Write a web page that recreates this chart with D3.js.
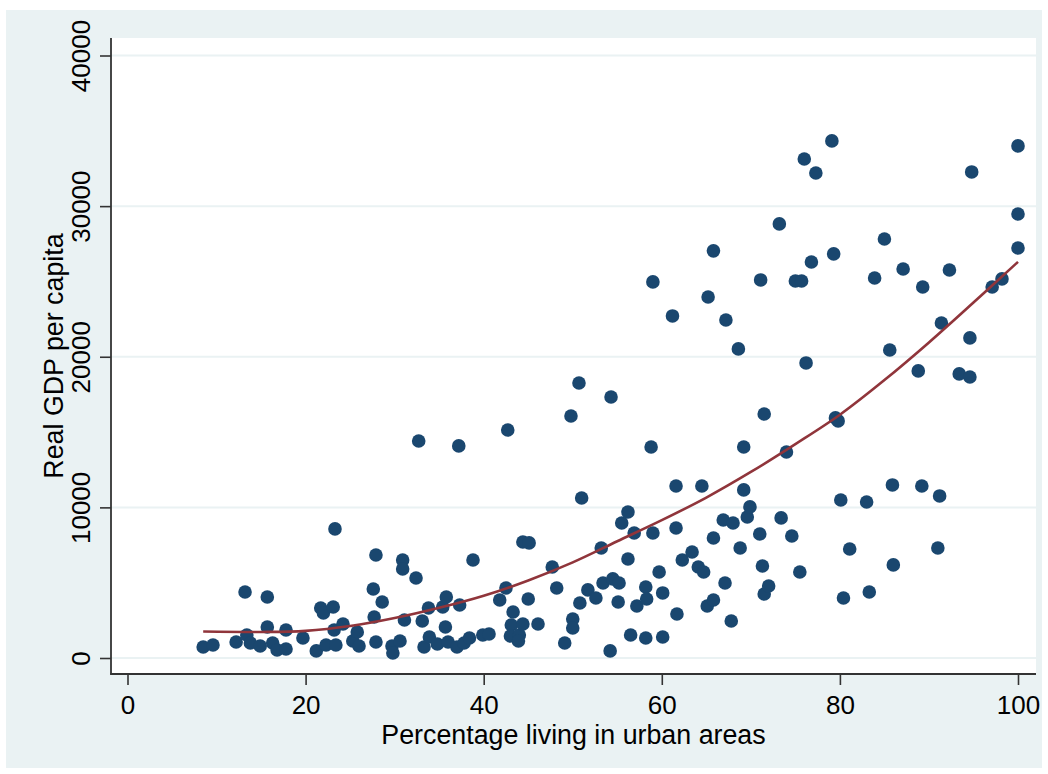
<!DOCTYPE html>
<html>
<head>
<meta charset="utf-8">
<script src="https://cdn.jsdelivr.net/npm/d3@7"></script>
<style>
  html, body { margin: 0; padding: 0; background: #ffffff; }
  svg { display: block; }
  text { font-family: "Liberation Sans", Arial, Helvetica, sans-serif; fill: #000; }
</style>
</head>
<body>
<svg id="chart" width="1048" height="774"></svg>
<script>
// ---------------- data ----------------
const urbanPct = [
  8.5, 9.6, 12.2, 13.2, 13.4, 13.8, 14.9, 15.7, 15.7, 16.3, 16.8, 17.8, 17.8, 19.7, 21.2,
  21.7, 22.0, 22.3, 23.3, 23.4, 23.1, 23.2, 24.2, 25.3, 25.8, 26.0, 27.9, 27.6, 28.6, 27.7,
  27.9, 29.7, 29.8, 30.9, 30.9, 30.6, 32.4, 31.1, 32.7, 37.2, 33.1, 33.3, 33.8, 33.9, 34.8,
  35.4, 35.8, 35.7, 36.0, 37.0, 37.3, 37.8, 38.4, 38.8, 39.9, 40.6, 41.8, 42.5, 42.7, 43.3,
  43.1, 43.0, 44.0, 43.9, 44.4, 44.4, 45.1, 45.0, 46.1, 47.7, 48.2, 49.1, 49.8, 50.7, 51.0,
  50.0, 50.0, 50.8, 51.7, 52.6, 53.2, 53.4, 54.3, 54.5, 55.2, 55.1, 54.2, 55.5, 56.2, 56.2,
  56.5, 56.9, 57.2, 58.2, 58.3, 58.2, 58.8, 59.0, 59.0, 59.7, 60.1, 60.1, 61.2, 61.6, 61.6,
  61.7, 62.3, 63.4, 64.1, 64.7, 64.5, 65.1, 65.2, 65.8, 65.8, 65.8, 66.9, 67.1, 67.2, 67.8,
  68.0, 68.6, 68.8, 69.2, 69.2, 69.6, 69.9, 71.1, 71.0, 71.3, 71.5, 71.5, 72.0, 73.2, 73.4,
  74.0, 74.6, 75.0, 75.7, 75.5, 76.0, 76.2, 76.8, 77.3, 79.1, 79.3, 79.5, 79.8, 80.1, 80.4,
  81.1, 83.0, 83.3, 83.9, 85.0, 85.6, 85.9, 86.0, 87.1, 88.8, 89.2, 89.3, 91.0, 91.2, 91.4,
  92.3, 93.4, 94.6, 94.6, 94.8, 97.1, 98.2, 100.0, 100.0, 100.0
];
const gdpPerCapita = [
  730, 860, 1060, 4380, 1530, 1000, 800, 4050, 2060, 1000, 530, 1860, 600, 1330, 470,
  3320, 2990, 860, 8570, 860, 3390, 1860, 2260, 1130, 1730, 800, 6840, 4580, 3720, 2720,
  1060, 800, 330, 6510, 5910, 1130, 5310, 2520, 14410, 14080, 2460, 730, 3320, 1390, 930,
  3390, 4050, 2060, 1060, 730, 3520, 1000, 1330, 6510, 1530, 1590, 3850, 4650, 15140, 3050,
  2190, 1460, 1530, 1130, 2260, 7700, 7640, 3920, 2260, 6040, 4650, 1000, 16070, 18260, 10620,
  2590, 1990, 3650, 4520, 3980, 7300, 4980, 17330, 5250, 4980, 3720, 470, 8960, 9690, 6570,
  1530, 8300, 3450, 4710, 3920, 1330, 14010, 24970, 8300, 5710, 4320, 1390, 22710, 11420, 8630,
  2920, 6510, 7040, 6040, 5710, 11420, 3450, 23970, 27030, 7970, 3850, 9160, 4980, 22440, 2460,
  8960, 20520, 7300, 14010, 11160, 9360, 10030, 25100, 8230, 6110, 16200, 4250, 4780, 28820, 9300,
  13680, 8100, 25030, 25030, 5710, 33130, 19590, 26290, 32200, 34330, 26830, 15940, 15740, 10490, 3980,
  7240, 10360, 4380, 25230, 27820, 20450, 11490, 6180, 25830, 19060, 11420, 24630, 7300, 10760, 22240,
  25760, 18860, 18660, 21250, 32270, 24630, 25170, 34000, 29480, 27220
];
// quadratic fit curve at these x positions
const fitX = [8.5, 15, 20, 25, 30, 35, 40, 45, 50, 55, 60, 65, 70, 75, 80, 85, 90, 95, 100];
const fitY = [1760, 1730, 1800, 2120, 2650, 3330, 4130, 5150, 6350, 7750, 9150, 10650, 12350, 14200, 16150, 18450, 20950, 23600, 26300];

const xTicks = [0, 20, 40, 60, 80, 100];
const yTicks = [0, 10000, 20000, 30000, 40000];
const xTitle = "Percentage living in urban areas";
const yTitle = "Real GDP per capita";

// ---------------- drawing ----------------
const svg = d3.select("#chart");
const region = { left: 111, right: 1036, top: 38, bottom: 674 };

const x = d3.scaleLinear().domain([0, 100]).range([127.5, 1018]);
const y = d3.scaleLinear().domain([0, 40000]).range([658, 55.5]);

// graph background
svg.append("rect").attr("x", 6).attr("y", 10).attr("width", 1036).attr("height", 758)
  .attr("fill", "#EAF2F3");
// plot region
svg.append("rect").attr("x", region.left).attr("y", region.top)
  .attr("width", region.right - region.left).attr("height", region.bottom - region.top)
  .attr("fill", "#ffffff");

// gridlines
svg.append("g").selectAll("line").data(yTicks).join("line")
  .attr("x1", region.left).attr("x2", region.right)
  .attr("y1", d => y(d)).attr("y2", d => y(d))
  .attr("stroke", "#EAF2F3").attr("stroke-width", 2);

const tickFont = 26;
const titleFont = 26.8;

// y axis
const yAxis = svg.append("g").attr("transform", `translate(${region.left},0)`)
  .call(d3.axisLeft(y).tickValues(yTicks).tickSize(11).tickFormat(d3.format("d")));
yAxis.select(".domain").remove();
yAxis.selectAll(".tick line").attr("stroke", "#333").attr("stroke-width", 1.6);
yAxis.selectAll(".tick text")
  .attr("x", 0).attr("y", -21).attr("dy", null)
  .attr("transform", "rotate(-90)")
  .attr("text-anchor", "middle")
  .style("font-size", tickFont + "px")
  .style("font-family", '"Liberation Sans", Arial, sans-serif')
  .attr("fill", "#000");

// x axis
const xAxis = svg.append("g").attr("transform", `translate(0,${region.bottom})`)
  .call(d3.axisBottom(x).tickValues(xTicks).tickSize(11).tickFormat(d3.format("d")));
xAxis.select(".domain").remove();
xAxis.selectAll(".tick line").attr("stroke", "#333").attr("stroke-width", 1.6);
xAxis.selectAll(".tick text")
  .attr("y", 40).attr("dy", null)
  .attr("text-anchor", "middle")
  .style("font-size", tickFont + "px")
  .style("font-family", '"Liberation Sans", Arial, sans-serif')
  .attr("fill", "#000");

// axis lines
svg.append("line").attr("x1", region.left).attr("x2", region.left)
  .attr("y1", region.top).attr("y2", region.bottom + 0.8)
  .attr("stroke", "#333").attr("stroke-width", 1.8);
svg.append("line").attr("x1", region.left - 0.8).attr("x2", region.right)
  .attr("y1", region.bottom).attr("y2", region.bottom)
  .attr("stroke", "#333").attr("stroke-width", 1.8);

// points
const pts = urbanPct.map((u, i) => ({ u, g: gdpPerCapita[i] }));
svg.append("g").selectAll("circle").data(pts).join("circle")
  .attr("cx", d => x(d.u)).attr("cy", d => y(d.g)).attr("r", 6.8)
  .attr("fill", "#1A476F");

// fitted line
const fit = fitX.map((v, i) => [v, fitY[i]]);
svg.append("path").datum(fit)
  .attr("d", d3.line().x(d => x(d[0])).y(d => y(d[1])).curve(d3.curveCatmullRom))
  .attr("fill", "none").attr("stroke", "#90353B").attr("stroke-width", 2.6);

// titles
svg.append("text").attr("x", (region.left + region.right) / 2).attr("y", 744)
  .attr("text-anchor", "middle").style("font-size", titleFont + "px").text(xTitle);
svg.append("text").attr("transform", `translate(62.5,${(region.top + region.bottom) / 2}) rotate(-90)`)
  .attr("text-anchor", "middle").style("font-size", titleFont + "px").text(yTitle);
</script>
</body>
</html>
